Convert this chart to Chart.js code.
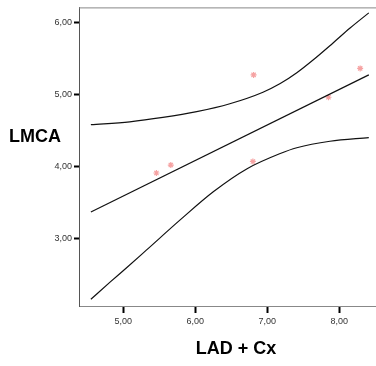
<!DOCTYPE html>
<html>
<head>
<meta charset="utf-8">
<script src="https://cdn.jsdelivr.net/npm/chart.js@4/dist/chart.umd.min.js"></script>
<style>
  html, body { margin: 0; padding: 0; background: #fff; }
  #wrap { width: 376px; height: 366px; position: relative; }
</style>
</head>
<body>
<div id="wrap"><canvas id="chart"></canvas></div>
<script>
// observed points (LAD + Cx, LMCA)
const pointX = [5.46, 5.66, 6.81, 6.80, 7.85, 8.29];
const pointY = [3.91, 4.02, 5.27, 4.07, 4.96, 5.36];

// fit line
const fitX = [4.55, 8.41];
const fitY = [3.37, 5.27];

// upper band
const upperX = [4.55, 5.09, 5.55, 6.02, 6.48, 6.94, 7.18, 7.41, 7.64, 7.91, 8.15, 8.41];
const upperY = [4.58, 4.62, 4.68, 4.76, 4.87, 5.03, 5.15, 5.30, 5.48, 5.71, 5.92, 6.13];

// lower band
const lowerX = [4.55, 4.82, 5.05, 5.32, 5.79, 6.25, 6.72, 7.18, 7.41, 7.87, 8.41];
const lowerY = [2.16, 2.40, 2.60, 2.84, 3.26, 3.65, 3.97, 4.18, 4.26, 4.35, 4.40];

const xTicks = [5, 6, 7, 8];
const yTicks = [3, 4, 5, 6];

const FONT = 'Arial, "Liberation Sans", sans-serif';

function toXY(xs, ys) {
  return xs.map((x, i) => ({ x: x, y: ys[i] }));
}

function fmt(v) {
  return v.toFixed(2).replace('.', ',');
}

const frameAndTitles = {
  id: 'frameAndTitles',
  afterDraw(chart) {
    const { ctx, chartArea: { left, top, right } } = chart;
    ctx.save();
    ctx.strokeStyle = '#888';
    ctx.lineWidth = 1;
    ctx.beginPath();
    ctx.moveTo(left, top + 0.5);
    ctx.lineTo(right, top + 0.5);
    ctx.stroke();

    ctx.fillStyle = '#000';
    ctx.font = 'bold 18px ' + FONT;
    ctx.textBaseline = 'middle';
    ctx.textAlign = 'left';
    ctx.fillText('LMCA', 9, 137);
    ctx.textAlign = 'center';
    ctx.fillText('LAD + Cx', 236, 349);
    ctx.restore();
  },
};

const lineStyle = {
  type: 'line',
  showLine: true,
  pointRadius: 0,
  borderColor: '#111',
  borderWidth: 1.2,
  fill: false,
  cubicInterpolationMode: 'monotone',
};

new Chart(document.getElementById('chart'), {
  type: 'scatter',
  data: {
    datasets: [
      Object.assign({ label: 'Верхняя граница', data: toXY(upperX, upperY) }, lineStyle),
      Object.assign({ label: 'Линия', data: toXY(fitX, fitY) }, lineStyle),
      Object.assign({ label: 'Нижняя граница', data: toXY(lowerX, lowerY) }, lineStyle),
      {
        label: 'LMCA',
        data: toXY(pointX, pointY),
        pointStyle: 'star',
        pointRadius: 3,
        borderWidth: 1.2,
        borderColor: '#f6a3a3',
        backgroundColor: '#f6a3a3',
      },
    ],
  },
  options: {
    responsive: true,
    maintainAspectRatio: false,
    animation: false,
    layout: { autoPadding: false, padding: { top: 5, right: 0, left: 0, bottom: 0 } },
    scales: {
      x: {
        type: 'linear',
        min: 4.385,
        max: 8.51,
        afterBuildTicks: (scale) => {
          scale.ticks = xTicks.map((tick) => ({ value: tick }));
        },
        afterFit: (scale) => {
          scale.height = 60;
          scale.paddingRight = 0;
        },
        border: { color: '#888', width: 1 },
        grid: {
          drawOnChartArea: false,
          tickLength: 7,
          tickWidth: 2,
          tickColor: '#000',
        },
        ticks: {
          callback: (val) => fmt(val),
          padding: 3,
          color: '#333',
          maxRotation: 0,
          font: { size: 9, family: FONT },
        },
      },
      y: {
        type: 'linear',
        min: 2.066,
        max: 6.206,
        afterBuildTicks: (scale) => {
          scale.ticks = yTicks.map((tick) => ({ value: tick }));
        },
        afterFit: (scale) => {
          scale.width = 79;
        },
        border: { color: '#555', width: 1 },
        grid: {
          drawOnChartArea: false,
          tickLength: 5,
          tickWidth: 2,
          tickColor: '#000',
        },
        ticks: {
          callback: (val) => fmt(val),
          padding: 2,
          color: '#333',
          font: { size: 9, family: FONT },
        },
      },
    },
    plugins: {
      legend: { display: false },
      tooltip: { enabled: false },
    },
  },
  plugins: [frameAndTitles],
});
</script>
</body>
</html>
